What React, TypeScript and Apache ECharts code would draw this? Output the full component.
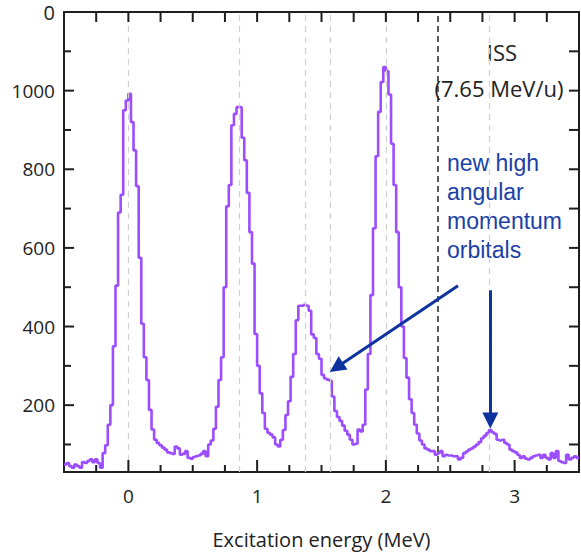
import React, { useEffect, useRef } from "react";
import * as echarts from "echarts";

const binStart = -0.5;
const binWidth = 0.02;
const counts = [
  49, 53, 45, 41, 49, 45, 41, 55, 53, 58,
  62, 55, 62, 53, 41, 78, 98, 150, 200, 350,
  504, 690, 735, 950, 975, 992, 920, 848, 757, 575,
  407, 322, 264, 188, 138, 112, 104, 98, 92, 87,
  80, 78, 76, 95, 90, 74, 76, 83, 66, 64,
  68, 70, 72, 76, 83, 70, 100, 110, 140, 196,
  264, 322, 500, 706, 760, 912, 941, 958, 958, 880,
  823, 740, 640, 560, 381, 300, 230, 180, 140, 130,
  125, 118, 100, 95, 112, 137, 175, 210, 272, 330,
  416, 453, 453, 455, 453, 440, 380, 371, 330, 318,
  277, 268, 265, 262, 222, 185, 170, 160, 148, 135,
  125, 112, 100, 102, 138, 133, 150, 240, 330, 480,
  650, 833, 946, 1022, 1060, 1050, 990, 865, 760, 640,
  500, 400, 320, 270, 215, 180, 150, 128, 110, 100,
  90, 87, 83, 83, 74, 78, 83, 70, 74, 72,
  72, 70, 70, 62, 66, 78, 82, 87, 90, 95,
  100, 106, 116, 122, 129, 137, 131, 127, 112, 110,
  112, 104, 100, 87, 83, 80, 74, 66, 70, 64,
  62, 66, 70, 72, 74, 66, 74, 66, 62, 78,
  66, 83, 58, 55, 53, 74, 62, 66, 70, 66,
];

const xRange = [-0.5, 3.5];
const yRange = [30, 1200];
const levelLines = [0, 0.86, 1.37, 1.57, 2.0, 2.8];
const thresholdLine = 2.4;
const xMajorTicks = [0, 1, 2, 3];
const xMinorTicks = [-0.25, 0.25, 0.5, 0.75, 1.25, 1.5, 1.75, 2.25, 2.5, 2.75, 3.25];
const xTopTicks = [-0.25, 0, 0.25, 0.5, 0.75, 1, 1.25, 1.5, 1.75, 2, 2.25, 2.5, 2.75, 3, 3.25];
const yLabelValues = [200, 400, 600, 800, 1000];
const yMinorTicks = [100, 300, 500, 700, 900, 1100];
const yRightTicks = [100, 200, 300, 400, 500, 600, 700, 800, 900, 1000, 1100];
const arrowLines = [
  [[2.56, 504], [1.616, 296]],
  [[2.811, 492], [2.811, 161]],
];

const axisColor = "#1e1e1e";
const labelFont = '"Open Sans", "Noto Sans", sans-serif';

type Side = "b" | "t" | "l" | "r";

function tickSeries(side: Side, values: number[], len: number) {
  const isX = side === "b" || side === "t";
  const mid = (yRange[0] + yRange[1]) / 2;
  const midX = (xRange[0] + xRange[1]) / 2;
  return {
    type: "custom",
    coordinateSystem: "cartesian2d",
    xAxisIndex: 0,
    yAxisIndex: 0,
    silent: true,
    clip: false,
    z: 10,
    data: values.map((v) => (isX ? [v, mid] : [midX, v])),
    renderItem: (params: any, api: any) => {
      const v = values[params.dataIndex];
      let p1: number[];
      let p2: number[];
      if (side === "b") {
        p1 = api.coord([v, yRange[0]]);
        p2 = [p1[0], p1[1] - len];
      } else if (side === "t") {
        p1 = api.coord([v, yRange[1]]);
        p2 = [p1[0], p1[1] + len];
      } else if (side === "l") {
        p1 = api.coord([xRange[0], v]);
        p2 = [p1[0] + len, p1[1]];
      } else {
        p1 = api.coord([xRange[1], v]);
        p2 = [p1[0] - len, p1[1]];
      }
      return {
        type: "line",
        shape: { x1: p1[0], y1: p1[1], x2: p2[0], y2: p2[1] },
        style: { stroke: axisColor, lineWidth: 2 },
      };
    },
  };
}

export default function App() {
  const ref = useRef<HTMLDivElement>(null);

  useEffect(() => {
    if (!ref.current) return;
    const chart = echarts.init(ref.current, undefined, { renderer: "svg" });

    const points: number[][] = counts.map((c, i) => [
      +(binStart + i * binWidth).toFixed(2),
      c,
    ]);
    points.push([+(binStart + counts.length * binWidth).toFixed(2), counts[counts.length - 1]]);

    const baseX = {
      type: "value" as const,
      min: xRange[0],
      max: xRange[1],
      splitLine: { show: false },
      axisTick: { show: false },
    };
    const baseY = {
      type: "value" as const,
      min: yRange[0],
      max: yRange[1],
      splitLine: { show: false },
      axisTick: { show: false },
    };

    chart.setOption({
      animation: false,
      grid: { left: 64, right: 2, top: 12, bottom: 78, containLabel: false },
      xAxis: [
        {
          ...baseX,
          position: "bottom",
          axisLine: { show: true, onZero: false, lineStyle: { color: axisColor, width: 2 } },
          axisLabel: {
            show: true,
            customValues: xMajorTicks,
            margin: 14,
            color: "#222",
            fontSize: 19,
            fontFamily: labelFont,
            formatter: (v: number) => String(v),
          },
          name: "Excitation energy (MeV)",
          nameLocation: "middle",
          nameGap: 57,
          nameTextStyle: { color: "#222", fontSize: 20, fontFamily: labelFont },
        },
        {
          ...baseX,
          position: "top",
          axisLine: { show: true, onZero: false, lineStyle: { color: axisColor, width: 2 } },
          axisLabel: { show: false },
        },
      ],
      yAxis: [
        {
          ...baseY,
          position: "left",
          axisLine: { show: true, onZero: false, lineStyle: { color: axisColor, width: 2 } },
          axisLabel: {
            show: true,
            customValues: yLabelValues,
            margin: 9,
            color: "#222",
            fontSize: 19,
            fontFamily: labelFont,
            formatter: (v: number) => String(v),
          },
        },
        {
          ...baseY,
          position: "right",
          axisLine: { show: true, onZero: false, lineStyle: { color: axisColor, width: 2 } },
          axisLabel: { show: false },
        },
      ],
      series: [
        {
          type: "line",
          name: "guides",
          xAxisIndex: 0,
          yAxisIndex: 0,
          data: [],
          z: 1,
          silent: true,
          markLine: {
            silent: true,
            symbol: "none",
            label: { show: false },
            data: [
              ...levelLines.map((v) => ({
                xAxis: v,
                lineStyle: { color: "#cfcfcf", width: 1.2, type: [6, 5] },
              })),
              {
                xAxis: thresholdLine,
                lineStyle: { color: "#333", width: 1.6, type: [6, 4] },
              },
            ],
          },
        },
        tickSeries("b", xMajorTicks, 12),
        tickSeries("b", xMinorTicks, 7),
        tickSeries("t", xTopTicks, 10),
        tickSeries("l", yLabelValues, 10),
        tickSeries("l", yMinorTicks, 7),
        tickSeries("r", yRightTicks, 10),
        {
          type: "line",
          name: "spectrum",
          xAxisIndex: 0,
          yAxisIndex: 0,
          data: points,
          step: "end",
          showSymbol: false,
          symbol: "none",
          z: 3,
          lineStyle: { color: "#9b4dff", width: 2.6 },
        },
        {
          type: "line",
          name: "arrows",
          xAxisIndex: 0,
          yAxisIndex: 0,
          data: [],
          z: 5,
          silent: true,
          markLine: {
            silent: true,
            symbol: ["none", "triangle"],
            symbolSize: [16, 16],
            label: { show: false },
            lineStyle: { color: "#0c339e", width: 3, type: "solid" },
            data: arrowLines.map((a) => [{ coord: a[0] }, { coord: a[1] }]),
          },
        },
      ],
      graphic: [
        {
          type: "text",
          x: 55,
          y: 12,
          style: { text: "0", align: "right", verticalAlign: "middle", fontSize: 20, fontFamily: labelFont, fill: "#222" },
        },
        {
          type: "text",
          x: 502,
          y: 52,
          style: { text: "ISS", align: "center", verticalAlign: "middle", fontSize: 22, fontFamily: labelFont, fill: "#222" },
        },
        {
          type: "text",
          x: 499,
          y: 88,
          style: { text: "(7.65 MeV/u)", align: "center", verticalAlign: "middle", fontSize: 22, fontFamily: labelFont, fill: "#222" },
        },
        {
          type: "text",
          x: 447,
          y: 148,
          style: {
            text: "new high\nangular\nmomentum\norbitals",
            align: "left",
            verticalAlign: "top",
            fontSize: 23,
            lineHeight: 29,
            fontFamily: '"Liberation Sans", Arial, sans-serif',
            fill: "#1b3fa6",
          },
        },
      ],
    });

    return () => chart.dispose();
  }, []);

  return (
    <div
      ref={ref}
      style={{ position: "fixed", left: 0, top: 0, width: 581, height: 554, background: "#fff" }}
    />
  );
}
